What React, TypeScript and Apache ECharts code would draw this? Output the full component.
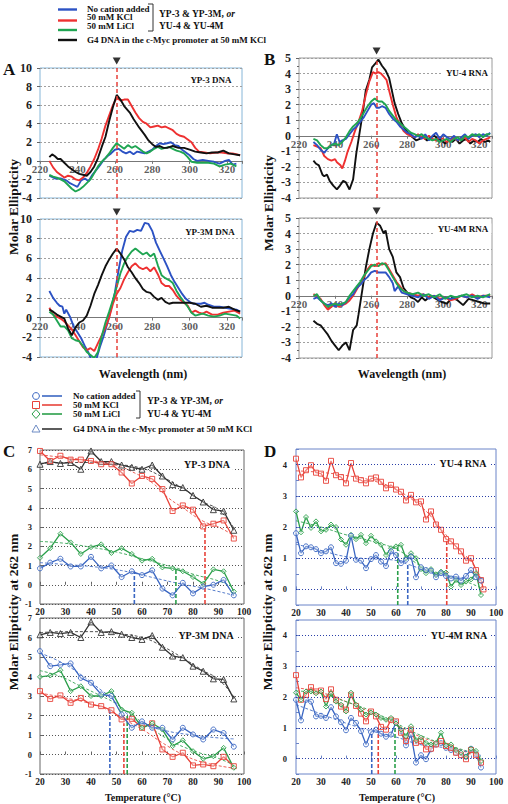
import React, { useEffect, useRef } from "react";
import * as echarts from "echarts";

const F = '"Liberation Serif", "Times New Roman", serif';

// ---------- Colours ----------
const BLUE = "#2c52c4";
const RED = "#ee3131";
const GREEN = "#1fa552";
const BLACK = "#111111";
const CBLUE = "#3a66c2";
const CRED = "#e8433a";
const CGREEN = "#2a9f4a";
const CBLACK = "#333333";

// ---------- Panel A (CD spectra, YP-3 / YP-3M DNA) ----------
const aTopBlue = [[225,-1.6],[228,-1.9],[231,-1.9],[234,-2.1],[236,-2.4],[238,-2.6],[240,-2.8],[242,-2.1],[244,-1.9],[246,-2.2],[248,-1.5],[250,-1.0],[252,-0.5],[254,0.1],[256,0.5],[258,0.8],[260,1.2],[262,1.3],[264,1.0],[266,0.8],[268,1.0],[270,0.7],[272,1.0],[274,0.9],[276,0.8],[278,1.0],[280,1.2],[282,1.6],[284,1.9],[286,1.8],[288,1.9],[290,2.0],[292,1.7],[294,1.6],[296,1.2],[298,0.9],[300,0.6],[302,0.2],[304,0.0],[307,0.1],[310,0.0],[313,-0.1],[316,-0.3],[319,0.0],[321,0.1],[323,-0.4],[325,-0.3]];
const aTopRed = [[225,0],[227,-0.7],[229,-1.2],[231,-1.5],[233,-1.8],[235,-1.6],[237,-1.7],[239,-2.0],[241,-2.1],[243,-1.8],[245,-1.3],[247,-0.6],[249,0.2],[251,1.2],[253,2.4],[255,3.8],[257,4.9],[259,6.0],[261,6.8],[263,6.5],[265,6.6],[267,6.6],[269,5.9],[271,5.2],[273,4.6],[275,4.2],[277,4.0],[279,3.6],[281,3.7],[283,3.8],[285,3.6],[287,3.7],[289,3.5],[291,3.3],[293,2.9],[295,2.7],[297,2.6],[299,2.3],[301,2.0],[303,1.4],[305,1.0],[308,0.9],[311,0.8],[314,0.9],[317,0.9],[320,0.8],[323,0.8],[327,0.6]];
const aTopGreen = [[225,-1.5],[227,-1.7],[229,-1.8],[231,-2.0],[233,-2.2],[235,-2.6],[237,-3.0],[239,-3.3],[241,-3.1],[243,-2.8],[245,-2.4],[247,-2.0],[249,-1.3],[251,-0.6],[253,-0.1],[255,0.3],[257,0.8],[259,1.4],[261,1.9],[263,1.6],[265,1.3],[267,1.7],[269,1.4],[271,1.6],[273,1.3],[275,1.0],[277,0.8],[279,1.0],[281,1.3],[283,1.5],[285,1.3],[287,1.4],[289,1.5],[291,1.3],[293,1.1],[295,1.0],[297,0.8],[299,0.4],[301,-0.1],[304,-0.2],[307,-0.2],[310,-0.2],[313,-0.3],[316,-0.6],[319,-0.4],[322,-0.3],[325,-0.6]];
const aTopBlack = [[225,0.4],[226.5,0.7],[228,0.5],[229.5,0.2],[231,0.2],[233,-0.2],[235,-0.6],[237,-0.9],[239,-1.2],[241,-1.4],[243,-1.5],[245,-1.6],[247,-1.2],[249,-0.6],[251,0.3],[253,1.5],[255,2.6],[257,4.3],[259,5.8],[261,7.1],[263,6.6],[265,5.9],[268,5.2],[270,4.5],[273,3.6],[276,2.8],[278,2.2],[280,1.8],[282,1.5],[284,1.6],[286,1.4],[288,1.4],[291,1.6],[294,1.4],[297,1.4],[300,1.2],[303,1.0],[306,0.9],[309,0.8],[312,0.9],[315,0.9],[318,1.1],[321,0.8],[324,0.7],[327,0.6]];

const aBotBlue = [[225,2.7],[227,2.0],[229,1.5],[230.5,1.2],[232,1.1],[233,0.4],[234,0.8],[236,0.1],[238,-0.9],[240,-1.5],[242,-2.1],[244,-2.9],[246,-3.6],[248,-4.5],[250,-4.3],[252,-3.0],[254,-1.9],[256,-0.6],[258,0.9],[260,2.5],[262,4.8],[264,6.8],[266,8.2],[268,8.8],[270,8.7],[272,8.9],[274,8.8],[276,9.6],[278,9.5],[280,8.8],[282,7.6],[284,6.8],[286,6.0],[288,5.2],[290,4.3],[292,3.6],[294,3.0],[296,2.4],[298,1.9],[300,1.6],[302,1.4],[304,1.4],[306,1.4],[308,1.5],[310,1.3],[313,1.1],[316,1.1],[319,1.0],[322,0.9],[325,0.8],[327,0.6]];
const aBotRed = [[225,1.0],[227,0.3],[229,0.1],[231,-0.1],[233,-0.4],[235,-0.8],[237,-1.2],[239,-1.8],[241,-2.4],[243,-3.0],[245,-3.3],[247,-3.1],[249,-3.4],[251,-2.6],[253,-1.8],[255,-1.0],[257,0.0],[259,1.4],[261,2.4],[263,3.0],[265,3.9],[267,4.6],[269,5.2],[271,5.5],[273,5.1],[275,4.9],[277,5.1],[279,4.7],[281,5.1],[283,4.4],[285,3.5],[287,3.2],[289,3.2],[291,2.8],[293,2.2],[295,1.8],[297,1.5],[299,1.2],[301,0.5],[303,0.7],[305,0.5],[307,0.4],[309,0.6],[312,0.3],[315,0.3],[318,0.5],[321,0.6],[324,0.7],[327,0.4]];
const aBotGreen = [[225,0.6],[227,0.3],[229,-0.3],[231,-0.9],[233,-0.9],[235,-1.3],[237,-2.1],[239,-2.3],[241,-2.4],[243,-2.9],[245,-3.5],[247,-3.8],[249,-4.1],[251,-3.5],[253,-1.9],[255,-0.5],[257,0.6],[259,1.8],[261,3.1],[263,4.5],[265,5.5],[267,6.2],[269,6.7],[271,7.0],[273,6.7],[275,6.4],[277,6.6],[279,6.2],[281,6.5],[283,5.3],[285,4.3],[287,4.0],[289,3.8],[291,3.5],[293,2.7],[295,2.1],[297,1.6],[299,1.1],[301,0.5],[303,0.2],[305,0.3],[307,0.4],[310,0.2],[313,0.1],[316,0.2],[319,0.4],[322,0.3],[325,0.2],[327,-0.1]];
const aBotBlack = [[225,0.8],[227,0.6],[229,0.3],[231,0.1],[233,-0.1],[235,-1.1],[237,-1.8],[239,-1.0],[241,-0.5],[243,-0.3],[245,0.2],[247,1.2],[249,2.4],[251,3.3],[253,4.3],[255,5.2],[257,5.9],[259,6.5],[261,7.0],[263,6.5],[265,5.9],[267,5.1],[269,4.6],[271,4.0],[273,3.5],[275,2.9],[277,2.6],[279,2.5],[281,2.1],[283,1.8],[285,2.0],[287,1.6],[289,1.4],[291,1.5],[294,1.5],[297,1.5],[300,1.5],[303,1.4],[306,1.1],[309,1.2],[312,1.0],[315,1.0],[318,1.0],[321,1.1],[324,0.8],[327,0.6]];

// ---------- Panel B (CD spectra, YU-4 / YU-4M RNA) ----------
const bTopBlue = [[228,-0.4],[230,-0.6],[232,-0.9],[234,-1.1],[236,-0.8],[238,-0.6],[239.5,-0.5],[241,0.1],[242.5,-0.4],[244,-0.3],[246,-0.2],[248,0.1],[250,0.4],[252,0.6],[254,0.9],[256,1.2],[258,1.6],[260,2.0],[261.5,2.1],[263,1.8],[264.5,1.8],[266,1.9],[268,1.8],[270,1.4],[272,1.1],[274,0.9],[276,0.6],[278,0.4],[280,0.2],[282,0.1],[284,-0.1],[286,0.0],[288,-0.2],[290,0.1],[292,-0.3],[294,0.0],[296,0.2],[298,-0.2],[300,0.1],[302,-0.1],[304,-0.2],[306,0.0],[308,-0.3],[310,-0.1],[312,0.1],[314,-0.2],[316,0.0],[318,0.1],[320,-0.1],[322,0.1],[324,0.0],[326,0.2]];
const bTopRed = [[228,-0.6],[230,-0.7],[232,-0.8],[234,-1.3],[236,-1.5],[238,-1.6],[240,-1.5],[241,-1.7],[243,-1.9],[244,-2.1],[245.5,-1.6],[247,-1.0],[249,-0.4],[251,0.3],[253,0.9],[255,1.6],[257,2.6],[259,3.5],[261,4.1],[262.5,4.0],[264,4.1],[265.5,4.0],[267,3.8],[268.5,3.6],[270,2.9],[272,2.0],[274,1.2],[276,0.7],[278,0.3],[280,0.1],[282,0.0],[284,-0.1],[286,0.1],[288,-0.1],[290,-0.2],[292,0.0],[294,-0.2],[296,-0.3],[298,-0.1],[300,-0.2],[302,-0.4],[304,-0.3],[306,-0.1],[308,-0.3],[310,-0.2],[312,-0.1],[314,-0.4],[316,-0.2],[318,-0.3],[320,-0.5],[322,-0.3],[324,-0.2],[326,-0.1]];
const bTopGreen = [[228,-0.2],[230,-0.3],[232,-0.6],[234,-0.8],[236,-0.8],[238,-0.6],[240,-0.5],[242,-0.6],[244,-0.4],[246,-0.1],[248,0.3],[250,0.6],[252,0.8],[254,1.1],[256,1.5],[258,1.9],[260,2.2],[262,2.4],[264,2.2],[266,2.2],[268,2.0],[270,1.6],[272,1.3],[274,1.0],[276,0.8],[278,0.6],[280,0.4],[282,0.2],[284,0.1],[286,0.0],[288,0.1],[290,-0.1],[292,-0.2],[294,-0.3],[296,-0.2],[298,-0.4],[300,-0.3],[302,-0.2],[304,-0.4],[306,-0.2],[308,-0.1],[310,-0.3],[312,0.0],[314,-0.1],[316,0.1],[318,0.0],[320,0.1],[322,-0.1],[324,0.1],[326,0.1]];
const bTopBlack = [[228,-1.6],[229.5,-1.8],[231,-1.9],[232,-2.2],[233,-2.5],[234,-2.6],[235.5,-2.5],[237,-2.9],[239,-3.2],[241,-3.45],[242.7,-3.2],[244.5,-2.9],[246,-3.0],[248,-3.45],[250,-2.8],[251.8,-1.1],[253.6,0.2],[255.5,1.6],[257,2.9],[259,3.6],[260.5,4.4],[262,4.6],[264,4.9],[266,4.5],[268,4.2],[270,3.7],[271.5,2.9],[273,2.1],[275,1.4],[277,0.8],[279,0.4],[281,0.1],[283,-0.1],[285,-0.3],[287,-0.2],[289,-0.1],[291,-0.3],[293,-0.1],[295,0.0],[297,-0.2],[299,-0.3],[301,-0.5],[303,-0.3],[305,-0.4],[307,-0.2],[309,-0.5],[311,-0.3],[313,-0.2],[315,-0.5],[317,-0.3],[319,-0.4],[321,-0.2],[323,-0.4],[325,-0.3],[326,-0.4]];

const bBotBlue = [[228,-0.2],[230,-0.1],[232,-0.3],[234,-0.5],[236,-0.6],[238,-0.5],[240,-0.7],[242,-0.5],[244,-0.6],[246,-0.4],[248,-0.1],[250,0.1],[252,0.5],[254,0.7],[256,1.0],[258,1.2],[260,1.5],[262,1.6],[264,1.5],[266,1.5],[268,1.5],[270,1.2],[272,0.8],[273,0.3],[275,0.6],[277,0.2],[280,0.1],[283,0.0],[286,-0.1],[289,0.1],[292,-0.2],[295,0.0],[298,-0.3],[301,-0.1],[304,-0.2],[307,-0.1],[310,0.0],[313,-0.1],[316,0.0],[319,-0.2],[322,0.0],[326,-0.1]];
const bBotRed = [[228,0.1],[230,0.0],[232,-0.2],[234,-0.6],[236,-0.9],[238,-0.7],[240,-0.5],[242,-0.7],[244,-0.6],[246,-0.5],[248,-0.3],[250,0.0],[252,0.4],[254,0.8],[256,1.2],[258,1.7],[260,2.0],[262,1.9],[264,2.1],[266,2.0],[268,2.1],[270,1.7],[272,1.3],[274,0.9],[276,0.6],[278,0.3],[280,0.2],[283,0.1],[286,0.0],[289,0.1],[292,-0.1],[295,0.0],[298,-0.2],[301,-0.1],[304,-0.3],[307,-0.2],[310,0.0],[313,-0.1],[316,0.1],[319,-0.1],[322,0.0],[326,0.0]];
const bBotGreen = [[228,0.0],[230,0.1],[232,-0.3],[234,-0.5],[236,-0.7],[238,-0.6],[240,-0.5],[242,-0.6],[244,-0.5],[246,-0.4],[248,0.0],[250,0.3],[252,0.6],[254,0.9],[256,1.3],[258,1.6],[260,1.9],[262,2.0],[264,1.9],[266,2.1],[268,2.0],[270,1.6],[272,1.2],[274,0.8],[276,0.5],[278,0.3],[280,0.2],[283,0.1],[286,0.2],[289,0.0],[292,0.1],[295,-0.1],[298,0.1],[301,-0.2],[304,0.0],[307,-0.1],[310,0.0],[313,0.1],[316,-0.1],[319,0.0],[322,-0.1],[326,0.1]];
const bBotBlack = [[228,-1.6],[230,-1.8],[232,-1.9],[234,-2.2],[236,-2.5],[238,-2.9],[240,-3.2],[242,-3.5],[244,-3.2],[246,-3.0],[248,-3.5],[250,-2.2],[252,-1.9],[253,-1.2],[255,0.3],[257,1.8],[259,3.0],[261,4.0],[263,4.7],[265,4.5],[267,4.0],[268,4.2],[270,3.0],[272,2.5],[274,1.5],[276,1.2],[278,0.5],[280,0.2],[282,-0.1],[284,-0.2],[286,-0.4],[288,-0.1],[290,-0.3],[293,0.0],[296,-0.2],[299,-0.4],[302,-0.5],[305,-0.1],[308,-0.3],[311,-0.6],[314,-0.2],[317,-0.3],[320,-0.4],[323,-0.5],[326,-0.5]];

// wavelength tick labels (drawn on the zero line) and the dashed marker line / arrow
const wlTicks = [220, 240, 260, 280, 300, 320];
const markA = [[261, 10]];
const markB = [[263, 5]];

// ---------- Panel C (melting, YP-3 / YP-3M DNA) ----------
const tempsC = [20,24,28,32,36,40,44,48,52,56,60,64,68,72,76,80,84,88,92,96];
const c1Blue = [0.85,1.15,1.35,0.95,0.95,1.45,0.85,1.0,0.4,0.7,0.5,0.75,-0.2,-0.55,0.1,-0.45,-0.1,0.0,0.25,-0.55];
const c1Green = [1.4,1.9,2.65,2.2,1.6,1.95,2.1,1.65,1.9,1.6,1.25,1.35,0.9,0.85,0.7,0.4,0.05,0.8,0.7,-0.35];
const c1Red = [6.95,6.43,6.7,6.5,6.5,6.43,6.26,6.26,5.83,5.26,5.65,5.5,4.97,3.83,4.12,3.9,3.03,3.17,3.34,2.4];
const c1Black = [6.26,6.4,6.3,6.35,6.0,6.95,6.4,6.4,6.22,6.1,6.0,6.22,5.65,5.2,5.05,4.64,4.3,3.9,3.83,2.83];
const c2Blue = [5.3,4.53,4.6,4.67,3.93,3.68,3.08,3.0,2.05,1.37,1.7,1.37,1.37,0.77,1.37,1.03,0.77,1.28,1.1,0.4];
const c2Green = [3.98,4.05,4.32,3.25,3.5,3.0,3.0,3.25,2.3,2.14,1.37,1.6,1.28,0.43,0.73,0.17,-0.22,-0.09,0.34,-0.68];
const c2Red = [3.25,2.85,3.03,2.65,2.9,2.56,2.48,2.27,1.8,1.83,1.37,1.6,0.26,-0.12,0.09,-0.56,-0.51,-0.6,-0.12,-0.6];
const c2Black = [6.14,6.26,6.2,6.26,6.0,6.8,6.26,6.3,6.17,6.0,5.9,6.1,5.5,5.05,4.97,4.53,4.27,3.88,3.85,2.85];

const fitC1Blue = [[20,1.15],[30,1.05],[40,0.95],[50,0.78],[57,0.6],[65,0.35],[75,0.05],[85,-0.2],[96,-0.55]];
const fitC1Green = [[20,2.25],[30,2.15],[40,1.95],[50,1.7],[60,1.35],[70,1.0],[74,0.85],[80,0.55],[90,0.2],[96,-0.15]];
const fitC1Red = [[20,6.75],[30,6.6],[40,6.45],[50,6.2],[58,5.75],[64,5.3],[70,4.55],[76,4.0],[84,3.3],[90,3.0],[96,2.55]];
const fitC1Black = [[20,6.3],[30,6.35],[40,6.35],[50,6.25],[60,6.05],[68,5.6],[76,5.0],[84,4.3],[90,3.9],[96,2.95]];
const fitC2Blue = [[20,5.2],[28,4.75],[36,4.1],[44,3.3],[48,2.9],[54,2.1],[60,1.6],[70,1.2],[80,1.0],[90,0.85],[96,0.8]];
const fitC2Green = [[20,4.3],[28,4.0],[36,3.5],[44,3.0],[50,2.6],[55,2.1],[62,1.5],[70,0.8],[80,0.2],[90,-0.2],[96,-0.55]];
const fitC2Red = [[20,3.15],[30,2.9],[40,2.6],[48,2.2],[53,1.8],[60,1.3],[68,0.6],[76,0.0],[84,-0.4],[96,-0.7]];
const fitC2Black = [[20,6.25],[30,6.3],[40,6.3],[50,6.2],[60,6.0],[68,5.55],[76,4.95],[84,4.3],[90,3.85],[96,2.95]];

// Tm markers: [temperature, height reached]
const tmC1 = { blue: [57, 0.7], green: [73.3, 0.85], red: [84.7, 3.0] };
const tmC2 = { blue: [47.4, 2.3], green: [54.2, 2.05], red: [52.9, 1.6] };

// ---------- Panel D (melting, YU-4 / YU-4M RNA) ----------
const tempsD = [20,22,24,26,28,30,32,34,36,38,40,42,44,46,48,50,52,54,56,58,60,62,64,66,68,70,72,74,76,78,80,82,84,86,88,90,92,94];
const tempsDRed = [...tempsD, 95];
const d1Red = [4.19,3.59,3.82,3.98,3.74,3.71,3.48,4.12,3.66,3.6,3.4,4.05,3.55,3.5,3.4,3.55,3.59,3.45,3.24,3.35,3.2,3.13,2.85,3.03,2.79,2.82,2.24,2.5,2.08,1.91,1.61,1.54,1.38,1.22,0.92,1.0,0.62,0.3,0.0];
const d1Green = [2.5,1.83,2.32,1.97,2.18,1.86,1.91,2.08,2.0,1.6,1.43,1.75,1.61,1.75,1.48,1.72,1.54,1.43,1.1,1.32,1.38,1.43,1.0,1.16,1.0,0.65,0.52,0.65,0.46,0.57,0.54,0.09,0.3,0.14,0.25,0.32,0.52,-0.18];
const d1Blue = [1.8,1.16,1.38,1.35,1.29,1.16,1.22,1.35,0.84,0.82,0.92,1.72,0.95,0.92,0.68,0.97,1.1,0.89,0.75,1.22,1.1,0.84,0.95,1.05,0.39,0.71,0.62,0.6,0.39,0.52,0.43,0.35,0.41,0.28,0.43,0.62,0.39,0.28];
const d2Red = [2.71,1.91,2.07,2.32,2.18,2.21,1.93,2.25,1.91,1.69,1.59,2.07,1.71,1.46,1.21,1.53,1.37,1.03,0.94,1.26,1.21,0.84,0.57,0.94,0.51,0.57,0.3,0.32,0.46,0.57,0.41,0.35,0.19,0.11,-0.02,0.28,0.11,-0.13];
const d2Green = [2.14,1.91,2.18,2.18,2.12,2.18,1.69,2.12,1.85,1.75,1.53,2.14,1.75,1.59,1.43,1.5,1.43,1.32,1.26,1.32,1.14,0.94,0.73,1.05,0.6,0.68,0.51,0.46,0.51,0.84,0.43,0.46,0.28,0.19,0.06,0.32,0.25,-0.08];
const d2Blue = [1.91,1.24,1.91,1.85,1.37,1.39,1.32,1.67,1.37,1.18,0.92,1.32,1.16,0.89,0.46,0.86,0.94,0.81,0.71,0.78,1.18,0.89,0.43,0.78,-0.13,0.11,-0.02,0.3,0.46,0.51,0.35,0.28,0.19,0.11,0.06,0.32,0.14,-0.29];

const fitD1Red = [[20,3.8],[30,3.75],[40,3.65],[50,3.5],[60,3.2],[70,2.65],[76,2.15],[80,1.75],[86,1.2],[90,0.9],[95,0.2]];
const fitD1Green = [[20,2.2],[30,2.0],[40,1.75],[50,1.55],[61,1.25],[70,0.75],[80,0.45],[88,0.25],[94,0.05]];
const fitD1Blue = [[20,1.45],[30,1.25],[40,1.05],[50,0.98],[58,0.95],[65,0.8],[72,0.6],[80,0.45],[90,0.35],[94,0.3]];
const fitD2Red = [[20,2.3],[30,2.15],[40,1.85],[50,1.5],[53,1.35],[60,1.1],[70,0.7],[80,0.45],[90,0.15],[94,0.0]];
const fitD2Green = [[20,2.2],[30,2.1],[40,1.85],[50,1.55],[60,1.15],[70,0.75],[80,0.45],[90,0.2],[94,0.05]];
const fitD2Blue = [[20,1.75],[30,1.45],[40,1.15],[50,0.9],[60,0.7],[70,0.45],[80,0.35],[90,0.2],[94,0.1]];

const tmD1 = { blue: [64.7, 0.78], green: [60.7, 1.38], red: [80.3, 1.6] };
const tmD2 = { blue: [50.3, 0.86], green: [59.6, 1.18], red: [52.9, 1.05] };

const gridValsD = [0, 1, 2, 3, 4];

// ---------- helpers ----------
const zip = (xs: number[], ys: number[]) => ys.map((y, i) => [xs[i], y]);

function wl(data: number[][], color: string, i: number, extra: any = {}) {
  return {
    type: "line", xAxisIndex: i, yAxisIndex: i, data, symbol: "none", showSymbol: false,
    lineStyle: { color, width: 1.9 }, itemStyle: { color }, z: 3, ...extra,
  };
}
function wlLabels(i: number) {
  return {
    type: "scatter", xAxisIndex: i, yAxisIndex: i, data: wlTicks.map((v) => [v, 0]),
    symbol: "circle", symbolSize: 0, clip: false, silent: true, z: 1,
    label: {
      show: true, position: "bottom", distance: 3,
      formatter: (p: any) => String(p.value[0]),
      fontFamily: F, fontWeight: "bold", fontSize: 11, color: "#333",
    },
  };
}
function melt(data: number[][], color: string, i: number, symbol: string, z = 4) {
  return {
    type: "line", xAxisIndex: i, yAxisIndex: i, data, symbol, symbolSize: symbol === "triangle" ? 6 : 5,
    showSymbol: true,
    lineStyle: { color, width: 1.3 },
    itemStyle: { color: "rgba(255,255,255,0.35)", borderColor: color, borderWidth: 0.9 },
    z,
  };
}
function fit(data: number[][], color: string, i: number, extra: any = {}) {
  return {
    type: "line", xAxisIndex: i, yAxisIndex: i, data, symbol: "none", smooth: true,
    lineStyle: { color, width: 1, type: [3, 2], opacity: 0.85 }, z: 2, ...extra,
  };
}
function vline(p: number[], yMin: number, color: string, i: number) {
  return {
    type: "line", xAxisIndex: i, yAxisIndex: i, data: [[p[0], yMin], [p[0], p[1]]], symbol: "none",
    lineStyle: { color, width: 1.6, type: [4, 2] }, z: 2,
  };
}
function arrow(data: number[][], i: number, redLineX: number) {
  return {
    type: "scatter", xAxisIndex: i, yAxisIndex: i, data, symbol: "triangle", symbolRotate: 180,
    symbolSize: [8, 7], symbolOffset: [0, -7], itemStyle: { color: "#000" }, clip: false, z: 10,
    markLine: {
      silent: true, symbol: "none", label: { show: false },
      lineStyle: { color: "#e8403a", type: [4, 3], width: 1.5 },
      data: [{ xAxis: redLineX }],
    },
  };
}

function txt(x: number, y: number, text: string, size: number, o: any = {}) {
  const align = o.align || "left";
  return {
    type: "text", x, y, rotation: o.rot || 0, z: 100,
    style: {
      text, fill: o.color || "#111",
      font: `${o.italic ? "italic " : ""}${o.weight || "bold"} ${size}px ${F}`,
      textAlign: align, align, textVerticalAlign: "middle", verticalAlign: "middle",
      backgroundColor: o.bg, padding: o.bg ? [1, 3] : 0,
      rich: o.rich,
    },
  };
}
function gl(x1: number, y1: number, x2: number, y2: number, stroke: string, w = 2.2) {
  return { type: "line", z: 100, shape: { x1, y1, x2, y2 }, style: { stroke, lineWidth: w } };
}

// grid frames
const grids = [
  { left: 40, top: 68, width: 202, height: 130, borderColor: "#86b6d8" },
  { left: 40, top: 219, width: 202, height: 138, borderColor: "#86b6d8" },
  { left: 299, top: 58, width: 193, height: 140, borderColor: "#9a9a9a" },
  { left: 299, top: 218, width: 193, height: 140, borderColor: "#9a9a9a" },
  { left: 40, top: 450, width: 204, height: 154, borderColor: "#666" },
  { left: 40, top: 618, width: 204, height: 156, borderColor: "#666" },
  { left: 296, top: 449, width: 200, height: 156, borderColor: "#6a84c8" },
  { left: 296, top: 620, width: 200, height: 154, borderColor: "#6a84c8" },
].map((g) => ({ ...g, show: true, borderWidth: 1, backgroundColor: "transparent" }));

function specX(i: number, max: number) {
  return {
    gridIndex: i, type: "value", min: 220, max, interval: 20,
    axisLine: { show: true, onZero: true, lineStyle: { color: "#777", width: 1 } },
    axisTick: { show: true, length: 3, lineStyle: { color: "#777" } },
    axisLabel: { show: false },
    splitLine: { show: false },
  };
}
function specY(i: number, min: number, max: number, interval: number) {
  return {
    gridIndex: i, type: "value", min, max, interval,
    axisLine: { show: false },
    axisTick: { show: true, length: 3, lineStyle: { color: "#666" } },
    minorTick: { show: interval === 1, splitNumber: 2, length: 2, lineStyle: { color: "#666" } },
    axisLabel: { fontFamily: F, fontWeight: "bold", fontSize: 12, color: "#222", margin: 8 },
    splitLine: { show: true, lineStyle: { color: "#a0a0a0", type: [2, 2], width: 1 } },
  };
}
function meltX(i: number, borderColor: string) {
  return {
    gridIndex: i, type: "value", min: 20, max: 100, interval: 10,
    axisLine: { show: false },
    axisTick: { show: true, inside: true, length: 3, lineStyle: { color: borderColor } },
    axisLabel: { fontFamily: F, fontWeight: "bold", fontSize: 9.5, color: "#222", margin: 3 },
    splitLine: { show: false },
  };
}

export default function App() {
  const ref = useRef<HTMLDivElement>(null);
  useEffect(() => {
    if (!ref.current) return;
    const chart = echarts.init(ref.current, null, { renderer: "svg" });

    const series: any[] = [
      // A top
      wlLabels(0),
      wl(aTopBlue, BLUE, 0), wl(aTopRed, RED, 0), wl(aTopGreen, GREEN, 0), wl(aTopBlack, BLACK, 0),
      arrow(markA, 0, markA[0][0]),
      // A bottom
      wlLabels(1),
      wl(aBotBlue, BLUE, 1), wl(aBotRed, RED, 1), wl(aBotGreen, GREEN, 1), wl(aBotBlack, BLACK, 1),
      arrow(markA, 1, markA[0][0]),
      // B top
      wlLabels(2),
      wl(bTopBlack, BLACK, 2), wl(bTopRed, RED, 2), wl(bTopBlue, BLUE, 2), wl(bTopGreen, GREEN, 2),
      arrow(markB, 2, markB[0][0]),
      // B bottom
      wlLabels(3),
      wl(bBotBlack, BLACK, 3), wl(bBotRed, RED, 3), wl(bBotBlue, BLUE, 3), wl(bBotGreen, GREEN, 3),
      arrow(markB, 3, markB[0][0]),
      // C top
      fit(fitC1Blue, CBLUE, 4), fit(fitC1Green, CGREEN, 4), fit(fitC1Red, CRED, 4), fit(fitC1Black, CBLACK, 4),
      vline(tmC1.blue, -1, CBLUE, 4), vline(tmC1.green, -1, CGREEN, 4), vline(tmC1.red, -1, CRED, 4),
      melt(zip(tempsC, c1Black), CBLACK, 4, "triangle"), melt(zip(tempsC, c1Red), CRED, 4, "rect"),
      melt(zip(tempsC, c1Green), CGREEN, 4, "diamond"), melt(zip(tempsC, c1Blue), CBLUE, 4, "circle"),
      // C bottom
      fit(fitC2Blue, CBLUE, 5), fit(fitC2Green, CGREEN, 5), fit(fitC2Red, CRED, 5), fit(fitC2Black, CBLACK, 5),
      vline(tmC2.blue, -1, CBLUE, 5), vline(tmC2.green, -1, CGREEN, 5), vline(tmC2.red, -1, CRED, 5),
      melt(zip(tempsC, c2Black), CBLACK, 5, "triangle"), melt(zip(tempsC, c2Red), CRED, 5, "rect"),
      melt(zip(tempsC, c2Green), CGREEN, 5, "diamond"), melt(zip(tempsC, c2Blue), CBLUE, 5, "circle"),
      // D top
      fit(fitD1Red, CRED, 6, {
        markLine: {
          silent: true, symbol: "none", label: { show: false },
          lineStyle: { color: "#2b3fa8", type: [1, 2], width: 1 },
          data: gridValsD.map((v) => ({ yAxis: v })),
        },
      }),
      fit(fitD1Green, CGREEN, 6), fit(fitD1Blue, CBLUE, 6),
      vline(tmD1.blue, -0.5, CBLUE, 6), vline(tmD1.green, -0.5, CGREEN, 6), vline(tmD1.red, -0.5, CRED, 6),
      melt(zip(tempsDRed, d1Red), CRED, 6, "rect"), melt(zip(tempsD, d1Green), CGREEN, 6, "diamond"),
      melt(zip(tempsD, d1Blue), CBLUE, 6, "circle"),
      // D bottom
      fit(fitD2Red, CRED, 7, {
        markLine: {
          silent: true, symbol: "none", label: { show: false },
          lineStyle: { color: "#2b3fa8", type: [1, 2], width: 1 },
          data: gridValsD.map((v) => ({ yAxis: v })),
        },
      }),
      fit(fitD2Green, CGREEN, 7), fit(fitD2Blue, CBLUE, 7),
      vline(tmD2.blue, -0.5, CBLUE, 7), vline(tmD2.green, -0.5, CGREEN, 7), vline(tmD2.red, -0.5, CRED, 7),
      melt(zip(tempsD, d2Blue), CBLUE, 7, "circle"), melt(zip(tempsD, d2Red), CRED, 7, "rect"),
      melt(zip(tempsD, d2Green), CGREEN, 7, "diamond"),
    ];

    const meltYC = (i: number) => ({
      gridIndex: i, type: "value", min: -1, max: 7, interval: 1,
      axisLine: { show: false },
      axisTick: { show: true, inside: true, length: 3, lineStyle: { color: "#666" } },
      axisLabel: { fontFamily: F, fontWeight: "bold", fontSize: 8.5, color: "#222", margin: 8 },
      splitLine: { show: true, lineStyle: { color: "#555", type: [1, 2], width: 1 } },
    });
    const meltYD = (i: number) => ({
      gridIndex: i, type: "value", min: -0.5, max: 4.5, interval: 0.5,
      axisLine: { show: false },
      axisTick: { show: true, inside: true, length: 3, lineStyle: { color: "#6a84c8" } },
      axisLabel: {
        fontFamily: F, fontWeight: "bold", fontSize: 8.5, color: "#222", margin: 9,
        formatter: (v: number) => (Number.isInteger(v) && v >= 0 && v <= 4 ? String(v) : ""),
      },
      splitLine: { show: false },
    });

    const SB = "#3a66c2";
    const legendRowsTop = [
      { y: 9.5, ty: 8.5, color: BLUE, text: "No cation added" },
      { y: 20.5, ty: 17, color: RED, text: "50 mM KCl" },
      { y: 30, ty: 25.5, color: GREEN, text: "50 mM LiCl" },
      { y: 40, ty: 39.5, color: BLACK, text: "G4 DNA in the c-Myc promoter at 50 mM KCl" },
    ];
    const legendRowsC = [
      { y: 396, color: CBLUE, text: "No cation added" },
      { y: 405, color: CRED, text: "50 mM KCl" },
      { y: 414, color: CGREEN, text: "50 mM LiCl" },
      { y: 429, color: CBLACK, text: "G4 DNA in the c-Myc promoter at 50 mM KCl" },
    ];
    const richOr = { i: { fontStyle: "italic", fontWeight: "bold", fontSize: 9.5, fontFamily: F, fill: "#111" } };

    const graphic: any[] = [
      ...legendRowsTop.flatMap((r) => [gl(58, r.y, 77, r.y, r.color, 2.4), txt(87, r.ty, r.text, 9)]),
      { type: "polyline", z: 100, shape: { points: [[148, 4], [153, 4], [153, 31], [148, 31]] }, style: { stroke: "#333", lineWidth: 1, fill: null } },
      txt(159, 14, "YP-3 & YP-3M, {i|or}", 9.5, { rich: richOr }),
      txt(159, 25.5, "YU-4 & YU-4M", 9.5),

      ...legendRowsC.flatMap((r) => [gl(42, r.y, 62, r.y, r.color, 1.6), txt(73, r.y, r.text, 9)]),
      { type: "circle", z: 100, shape: { cx: 36, cy: 396, r: 3.4 }, style: { fill: "#fff", stroke: SB, lineWidth: 1 } },
      { type: "rect", z: 100, shape: { x: 32.5, y: 401.5, width: 7, height: 7 }, style: { fill: "#fff", stroke: CRED, lineWidth: 1 } },
      { type: "polygon", z: 100, shape: { points: [[36, 409.5], [40, 414], [36, 418.5], [32, 414]] }, style: { fill: "#fff", stroke: CGREEN, lineWidth: 1 } },
      { type: "polygon", z: 100, shape: { points: [[36, 425], [40, 432], [32, 432]] }, style: { fill: "#fff", stroke: "#6d8bc4", lineWidth: 1 } },
      { type: "polyline", z: 100, shape: { points: [[136, 391], [140, 391], [140, 418], [136, 418]] }, style: { stroke: "#333", lineWidth: 1, fill: null } },
      txt(147, 401, "YP-3 & YP-3M, {i|or}", 9.5, { rich: richOr }),
      txt(147, 414, "YU-4 & YU-4M", 9.5),

      // panel letters
      txt(3, 69, "A", 17),
      txt(264, 59, "B", 17),
      txt(3, 451, "C", 17),
      txt(264, 451, "D", 17),

      // axis titles
      txt(13, 207, "Molar Ellipticity", 13.5, { rot: Math.PI / 2, align: "center" }),
      txt(268, 203, "Molar Ellipticity", 13.5, { rot: Math.PI / 2, align: "center" }),
      txt(143, 374, "Wavelength (nm)", 12, { align: "center" }),
      txt(402, 374, "Wavelength (nm)", 12, { align: "center" }),
      txt(13, 612, "Molar Ellipticity at 262 nm", 13.5, { rot: Math.PI / 2, align: "center" }),
      txt(267, 612, "Molar Ellipticity at 262 nm", 13.5, { rot: Math.PI / 2, align: "center" }),
      txt(143, 797, "Temperature (°C)", 10, { align: "center" }),
      txt(397, 797, "Temperature (°C)", 10, { align: "center" }),

      // in-plot labels
      txt(211, 80, "YP-3 DNA", 9, { align: "center", bg: "#fff" }),
      txt(210, 232, "YP-3M DNA", 9, { align: "center", bg: "#fff" }),
      txt(467, 73, "YU-4 RNA", 9, { align: "center", bg: "#fff" }),
      txt(463, 229, "YU-4M RNA", 9, { align: "center", bg: "#fff" }),
      txt(207, 464, "YP-3 DNA", 10, { align: "center", bg: "#fff" }),
      txt(206, 635, "YP-3M DNA", 10, { align: "center", bg: "#fff" }),
      txt(463, 463, "YU-4 RNA", 10, { align: "center", bg: "#fff" }),
      txt(459, 635, "YU-4M RNA", 10, { align: "center", bg: "#fff" }),
    ];

    chart.setOption({
      animation: false,
      backgroundColor: "#fff",
      grid: grids,
      xAxis: [
        specX(0, 328), specX(1, 328), specX(2, 327), specX(3, 327),
        meltX(4, "#666"), meltX(5, "#666"), meltX(6, "#6a84c8"), meltX(7, "#6a84c8"),
      ],
      yAxis: [
        specY(0, -4, 10, 2), specY(1, -4, 10, 2), specY(2, -4, 5, 1), specY(3, -4, 5, 1),
        meltYC(4), meltYC(5), meltYD(6), meltYD(7),
      ],
      series,
      graphic,
    });
    return () => chart.dispose();
  }, []);
  return <div ref={ref} style={{ position: "absolute", left: 0, top: 0, width: 508, height: 804 }} />;
}
